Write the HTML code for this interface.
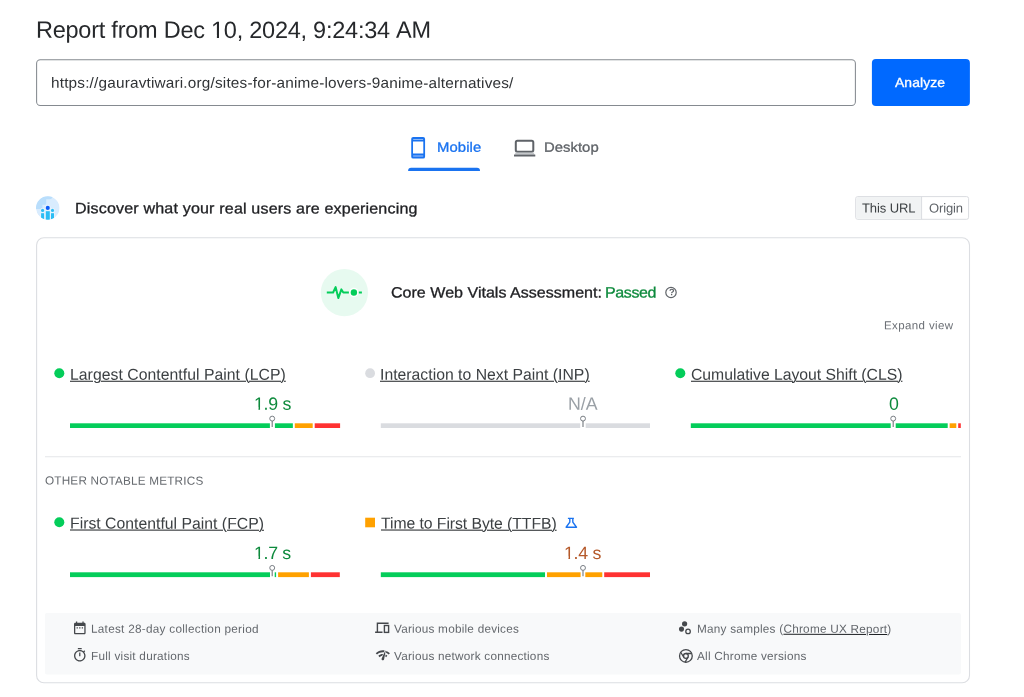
<!DOCTYPE html>
<html><head><meta charset="utf-8">
<style>
*{box-sizing:border-box;margin:0;padding:0}
html,body{width:1024px;height:697px;background:#fff;overflow:hidden}
body{font-family:"Liberation Sans",sans-serif;color:#202124;position:relative}
.t{position:absolute;transform-origin:0 0;white-space:pre;line-height:20px;font-family:"Liberation Sans",sans-serif}
.t u{text-decoration-color:#1d2023;text-decoration-thickness:1px;text-underline-offset:0.5px}
svg{position:absolute;left:0;top:0}
#tx{position:absolute;left:0;top:0;width:1024px;height:697px;will-change:transform}
</style></head><body>
<svg width="1024" height="697" viewBox="0 0 1024 697">
<!-- input + button -->
<rect x="36.600" y="59.750" width="818.800" height="45.700" rx="3.700" fill="#fff" stroke="#858a90" stroke-width="1.050"/>
<rect x="871.9" y="58.9" width="98" height="47.1" rx="4" fill="#0069ff"/>
<!-- tabs -->
<path d="M408.1 171v-.2a3 3 0 0 1 3-3h65.9a3 3 0 0 1 3 3v.2z" fill="#1a73f0"/>
<g transform="translate(406.3,135.9) scale(0.988)"><path fill-rule="evenodd" fill="#1a73f0" d="M7 1h10a2 2 0 0 1 2 2v18a2 2 0 0 1-2 2H7a2 2 0 0 1-2-2V3a2 2 0 0 1 2-2zM6.800 5.600v12.200h10.400V5.600zM7 3.150v.55h10v-.55z"/><rect x="6.900" y="19.500" width="10.200" height="1.700" fill="#6fa6f7"/></g>
<rect x="515.8" y="140.8" width="17.5" height="10.9" rx="1.6" fill="none" stroke="#5f6368" stroke-width="2"/>
<rect x="515.2" y="152.6" width="18.9" height="1.8" fill="#c4c7ca"/>
<rect x="514" y="154.4" width="21.3" height="2.2" rx=".4" fill="#5f6368"/>
<!-- discover icon -->
<defs><clipPath id="dc"><circle cx="47.8" cy="208" r="11.8"/></clipPath></defs>
<g clip-path="url(#dc)">
<circle cx="47.8" cy="208" r="11.8" fill="#d9ecfe"/>
<path d="M35 196h17.5c0 2.2-1.2 3.3-3 3.3h-3.3v3.6c0 1.3-.6 1.8-1.8 1.8h-2v2.6c0 1.200-.8 1.700-2 1.700H35z" fill="#b9defc"/>
<g stroke="#e9f4fe" stroke-width="1.6" paint-order="stroke" style="paint-order:stroke">
<rect x="41.1" y="213.2" width="3" height="9" fill="#2bbdf4"/><circle cx="42.6" cy="210.4" r="1.55" fill="#2bbdf4"/>
<rect x="51" y="213.2" width="3" height="9" fill="#2bbdf4"/><circle cx="52.5" cy="210.4" r="1.55" fill="#2bbdf4"/>
<rect x="45.8" y="211.2" width="4" height="11" fill="#2bbdf4"/><circle cx="47.75" cy="207.9" r="2.05" fill="#0b5cf7"/>
</g></g>
<!-- toggle -->
<rect x="855.7" y="196.6" width="112.9" height="22.7" rx="2" fill="#fff" stroke="#dadce0"/>
<path d="M856.2 198.600a1.500 1.500 0 0 1 1.500-1.500H921.600v21.700H857.700a1.500 1.500 0 0 1-1.500-1.500z" fill="#f1f3f4"/>
<path d="M921.600 196.600v22.700" stroke="#dadce0"/>
<!-- card -->
<rect x="36.600" y="237.700" width="932.900" height="445" rx="7.300" fill="none" stroke="#dcdee2" stroke-width="1.100"/>
<!-- CWV icon -->
<circle cx="344.400" cy="292.600" r="23.600" fill="#e7faf0"/>
<path d="M326.800 292.500H333.100L335.600 287.100L338.300 298.100L341.400 289.400L343.300 292.500H348.900" fill="none" stroke="#04cd5a" stroke-width="2" stroke-linejoin="round" stroke-linecap="butt"/>
<circle cx="353.900" cy="292.500" r="4.700" fill="#fff"/><circle cx="353.900" cy="292.500" r="3.200" fill="#04cd5a"/>
<path d="M358.800 292.500H361.900" stroke="#04cd5a" stroke-width="2" stroke-linecap="butt"/>
<!-- help -->
<circle cx="671" cy="292.500" r="5.200" fill="none" stroke="#5f6368" stroke-width="1.200"/>
<!-- dots -->
<circle cx="59.300" cy="373.200" r="5" fill="#04cd5a"/>
<circle cx="370.100" cy="373.200" r="4.900" fill="#dadce0"/>
<circle cx="680.300" cy="373.200" r="5" fill="#04cd5a"/>
<circle cx="59.300" cy="522.300" r="5" fill="#04cd5a"/>
<rect x="365.200" y="517.700" width="9.800" height="9.600" fill="#ffa100"/>
<!-- bars row 1 -->
<g transform="translate(0,423.300)">
<rect x="70" width="199.900" height="4.700" fill="#04cd5a"/><rect x="274.900" width="17.950" height="4.700" fill="#04cd5a"/><rect x="294.800" width="17.900" height="4.700" fill="#ffa100"/><rect x="314.700" width="25.400" height="4.700" fill="#ff3232"/>
<rect x="380.800" width="199.400" height="4.700" fill="#dadce0"/><rect x="585.700" width="64.300" height="4.700" fill="#dadce0"/>
<rect x="690.800" width="199.900" height="4.700" fill="#04cd5a"/><rect x="895.700" width="52" height="4.700" fill="#04cd5a"/><rect x="949.650" width="6.650" height="4.700" fill="#ffa100"/><rect x="958.200" width="2.600" height="4.700" fill="#ff3232"/>
</g>
<!-- bars row 2 -->
<g transform="translate(0,572.300)">
<rect x="70" width="200" height="4.800" fill="#04cd5a"/><rect x="274.700" width="1.400" height="4.800" fill="#04cd5a"/><rect x="278.100" width="30.800" height="4.800" fill="#ffa100"/><rect x="310.900" width="28.900" height="4.800" fill="#ff3232"/>
<rect x="380.800" width="164.200" height="4.800" fill="#04cd5a"/><rect x="547" width="33.600" height="4.800" fill="#ffa100"/><rect x="585.300" width="17" height="4.800" fill="#ffa100"/><rect x="604.200" width="45.800" height="4.800" fill="#ff3232"/>
</g>
<!-- markers -->
<g fill="#fff" stroke="#72777d" stroke-width="0.950">
<path d="M272.200 421v6" stroke-width="1.100"/><circle cx="272.200" cy="418.600" r="2.450"/>
<path d="M583 421v6" stroke-width="1.100"/><circle cx="583" cy="418.600" r="2.450"/>
<path d="M893.200 421v6" stroke-width="1.100"/><circle cx="893.200" cy="418.600" r="2.450"/>
<path d="M272.200 570.200v6" stroke-width="1.100"/><circle cx="272.200" cy="567.900" r="2.450"/>
<path d="M583 570.200v6" stroke-width="1.100"/><circle cx="583" cy="567.900" r="2.450"/>
</g>
<!-- divider + footer -->
<path d="M45 456.700H961" stroke="#e4e6e9" stroke-width="1.100"/>
<rect x="44.900" y="612.900" width="916" height="61.600" rx="2" fill="#f8f9fa"/>
<!-- flask -->
<path d="M567.900 518.400h6M569.800 518.400v3.800l-3.700 5.050h10.400l-3.700-5.050v-3.800" fill="none" stroke="#1a73f0" stroke-width="1.400" stroke-linejoin="round"/>
<!-- footer icons -->
<g fill="#45484c">
<g transform="translate(72.060,620.100) scale(0.645)"><path d="M9 11H7v2h2v-2zm4 0h-2v2h2v-2zm4 0h-2v2h2v-2zm2-7h-1V2h-2v2H8V2H6v2H5c-1.110 0-1.990.9-1.990 2L3 20c0 1.100.890 2 2 2h14c1.100 0 2-.9 2-2V6c0-1.100-.9-2-2-2zm0 16H5V9h14v11z"/></g>
<g transform="translate(72.100,647.400) scale(0.640)"><path d="M15 1H9v2h6V1zm-4 13h2V8h-2v6zm8.030-6.610l1.420-1.420c-.43-.51-.9-.99-1.410-1.410l-1.420 1.420C16.070 4.740 14.120 4 12 4c-4.970 0-9 4.030-9 9s4.020 9 9 9 9-4.030 9-9c0-2.120-.74-4.070-1.970-5.610zM12 20c-3.870 0-7-3.130-7-7s3.130-7 7-7 7 3.130 7 7-3.130 7-7 7z"/></g>
<g transform="translate(375.100,647.450) scale(0.645)"><path d="M15.900 5c-.17 0-.32.090-.41.230l-.07.150-5.180 11.650c-.16.290-.26.610-.26.960 0 1.110.9 2.010 2.010 2.010.96 0 1.770-.68 1.960-1.590l.01-.03L16.400 5.500c0-.28-.22-.5-.5-.5zM1 9l2 2c2.880-2.880 6.790-4.080 10.530-3.620l1.190-2.680C9.890 3.840 4.740 5.270 1 9zm20 2l2-2c-1.640-1.640-3.550-2.820-5.590-3.570l-.53 2.820c1.500.62 2.900 1.530 4.120 2.750zm-4 4l2-2c-.8-.8-1.700-1.420-2.660-1.890l-.55 2.920c.42.270.83.590 1.210.97zM5 13l2 2c1.130-1.130 2.560-1.790 4.030-2l1.280-2.880c-2.630-.08-5.300.87-7.310 2.880z"/></g>
<circle cx="684.600" cy="623.800" r="2.600"/><circle cx="681.500" cy="629.100" r="2.550"/>
</g>
<g fill="none" stroke="#45484c" stroke-width="1.300">
<circle cx="688.050" cy="631.400" r="2.250"/>
<path d="M377.400 632.400v-9.100h11.200M375.100 632.300h7.400" stroke-width="1.400"/>
<rect x="384.400" y="625.500" width="4.200" height="6.900" stroke-width="1.400"/>
<circle cx="685.900" cy="655.900" r="6.350"/><circle cx="685.900" cy="655.900" r="2.400"/>
<path d="M685.900 653.500h5.900M683.800 657.100l-3.300-5.100M688 657.100l-3 5.200"/>
</g>
</svg>

<div id="tx">
<div class="t" style="left:36.00px;top:18.81px;font-size:23.5px;color:#26282b;letter-spacing:-0.243px;transform:translateY(0.80px) rotate(0.03deg)">Report from Dec 10, 2024, 9:24:34</div>
<div class="t" style="left:395.50px;top:18.98px;font-size:23.5px;color:#26282b;letter-spacing:-0.174px;transform:translateY(0.80px) rotate(0.03deg)">AM</div>
<div class="t" style="left:50.96px;top:71.76px;font-size:14.75px;color:#303336;letter-spacing:0.175px;transform:translateY(0.70px) rotate(0.03deg) scaleX(1.04)">https://gauravtiwari.org/sites-for-anime-lovers-9anime-alternatives/</div>
<div class="t" style="left:895.20px;top:72.97px;font-size:13.25px;color:#fff;letter-spacing:0.094px;-webkit-text-stroke:0.3px #fff;transform:translateY(0.00px) rotate(0.03deg) scaleX(1.05)">Analyze</div>
<div class="t" style="left:437.30px;top:136.98px;font-size:13.5px;color:#1a73f0;letter-spacing:0.075px;-webkit-text-stroke:0.3px #1a73f0;transform:translateY(0.80px) rotate(0.03deg) scaleX(1.1)">Mobile</div>
<div class="t" style="left:543.70px;top:136.97px;font-size:13.5px;color:#5f6368;letter-spacing:0.028px;-webkit-text-stroke:0.3px #5f6368;transform:translateY(0.80px) rotate(0.03deg) scaleX(1.1)">Desktop</div>
<div class="t" style="left:74.68px;top:197.82px;font-size:15px;color:#202124;letter-spacing:0.164px;-webkit-text-stroke:0.3px #202124;transform:translateY(0.30px) rotate(0.03deg) scaleX(1.07)">Discover what your real users are experiencing</div>
<div class="t" style="left:861.80px;top:197.97px;font-size:13px;color:#3c4043;letter-spacing:-0.107px;transform:translateY(0.40px) rotate(0.03deg)">This URL</div>
<div class="t" style="left:928.60px;top:197.98px;font-size:13px;color:#5f6368;letter-spacing:-0.129px;transform:translateY(0.40px) rotate(0.03deg)">Origin</div>
<div class="t" style="left:390.90px;top:281.89px;font-size:15px;color:#202124;letter-spacing:0.005px;-webkit-text-stroke:0.3px #202124;transform:translateY(0.50px) rotate(0.03deg) scaleX(1.07)">Core Web Vitals Assessment:</div>
<div class="t" style="left:605.33px;top:281.97px;font-size:15px;color:#0d8a3c;letter-spacing:-0.373px;-webkit-text-stroke:0.3px #0d8a3c;transform:translateY(0.50px) rotate(0.03deg) scaleX(1.07)">Passed</div>
<div class="t" style="left:668.60px;top:282.00px;font-size:9.2px;color:#5f6368;letter-spacing:0.000px;font-weight:700;transform:translateY(0.30px) rotate(0.03deg)">?</div>
<div class="t" style="left:883.50px;top:314.96px;font-size:11.5px;color:#6b6f75;letter-spacing:0.390px;transform:translateY(0.30px) rotate(0.03deg)">Expand view</div>
<div class="t" style="left:69.50px;top:363.89px;font-size:15.75px;color:#3c4043;letter-spacing:0.043px;transform:translateY(0.70px) rotate(0.03deg)"><u>Largest Contentful Paint (LCP)</u></div>
<div class="t" style="left:380.00px;top:363.89px;font-size:15.75px;color:#3c4043;letter-spacing:0.014px;transform:translateY(0.70px) rotate(0.03deg)"><u>Interaction to Next Paint (INP)</u></div>
<div class="t" style="left:691.10px;top:363.89px;font-size:15.75px;color:#3c4043;letter-spacing:-0.014px;transform:translateY(0.70px) rotate(0.03deg)"><u>Cumulative Layout Shift (CLS)</u></div>
<div class="t" style="left:253.70px;top:392.98px;font-size:17.75px;color:#0d8a3c;letter-spacing:-0.302px;transform:translateY(0.70px) rotate(0.03deg)">1.9 s</div>
<div class="t" style="left:567.75px;top:392.98px;font-size:17.75px;color:#9aa0a6;letter-spacing:0.050px;transform:translateY(0.70px) rotate(0.03deg)">N/A</div>
<div class="t" style="left:888.70px;top:392.99px;font-size:17.75px;color:#0d8a3c;letter-spacing:0.000px;transform:translateY(0.70px) rotate(0.03deg)">0</div>
<div class="t" style="left:45.00px;top:469.92px;font-size:11.75px;color:#666a6f;letter-spacing:0.187px;transform:translateY(0.60px) rotate(0.03deg)">OTHER NOTABLE METRICS</div>
<div class="t" style="left:69.60px;top:512.90px;font-size:15.75px;color:#3c4043;letter-spacing:0.019px;transform:translateY(0.60px) rotate(0.03deg)"><u>First Contentful Paint (FCP)</u></div>
<div class="t" style="left:381.20px;top:512.91px;font-size:15.75px;color:#3c4043;letter-spacing:-0.058px;transform:translateY(0.60px) rotate(0.03deg)"><u>Time to First Byte (TTFB)</u></div>
<div class="t" style="left:253.70px;top:541.98px;font-size:17.75px;color:#0d8a3c;letter-spacing:-0.327px;transform:translateY(0.90px) rotate(0.03deg)">1.7 s</div>
<div class="t" style="left:564.30px;top:541.98px;font-size:17.75px;color:#b5592a;letter-spacing:-0.277px;transform:translateY(0.90px) rotate(0.03deg)">1.4 s</div>
<div class="t" style="left:91.00px;top:617.91px;font-size:11.75px;color:#63676c;letter-spacing:0.272px;transform:translateY(0.80px) rotate(0.03deg)">Latest 28-day collection period</div>
<div class="t" style="left:91.00px;top:644.95px;font-size:11.75px;color:#63676c;letter-spacing:0.244px;transform:translateY(0.90px) rotate(0.03deg)">Full visit durations</div>
<div class="t" style="left:394.20px;top:617.93px;font-size:11.75px;color:#63676c;letter-spacing:0.235px;transform:translateY(0.80px) rotate(0.03deg)">Various mobile devices</div>
<div class="t" style="left:394.20px;top:644.92px;font-size:11.75px;color:#63676c;letter-spacing:0.228px;transform:translateY(0.90px) rotate(0.03deg)">Various network connections</div>
<div class="t" style="left:696.70px;top:617.90px;font-size:11.75px;color:#63676c;letter-spacing:0.249px;transform:translateY(0.80px) rotate(0.03deg)">Many samples (<u>Chrome UX Report</u>)</div>
<div class="t" style="left:696.70px;top:644.94px;font-size:11.75px;color:#63676c;letter-spacing:0.236px;transform:translateY(0.90px) rotate(0.03deg)">All Chrome versions</div>
<svg width="1024" height="697" viewBox="0 0 1024 697"><g fill="#fff">
<rect x="211.5" y="35.2" width="5.4" height="3.2"/><rect x="219" y="35.2" width="4.5" height="3.2"/>
<rect x="254.5" y="407.4" width="3.95" height="2.9"/><rect x="260.05" y="407.4" width="2.95" height="2.9"/>
<rect x="254.5" y="556.4" width="3.95" height="2.9"/><rect x="260.05" y="556.4" width="2.95" height="2.9"/>
<rect x="564.5" y="556.4" width="3.95" height="2.9"/><rect x="570.05" y="556.4" width="2.95" height="2.9"/>
</g></svg>
</div>
</body></html>
